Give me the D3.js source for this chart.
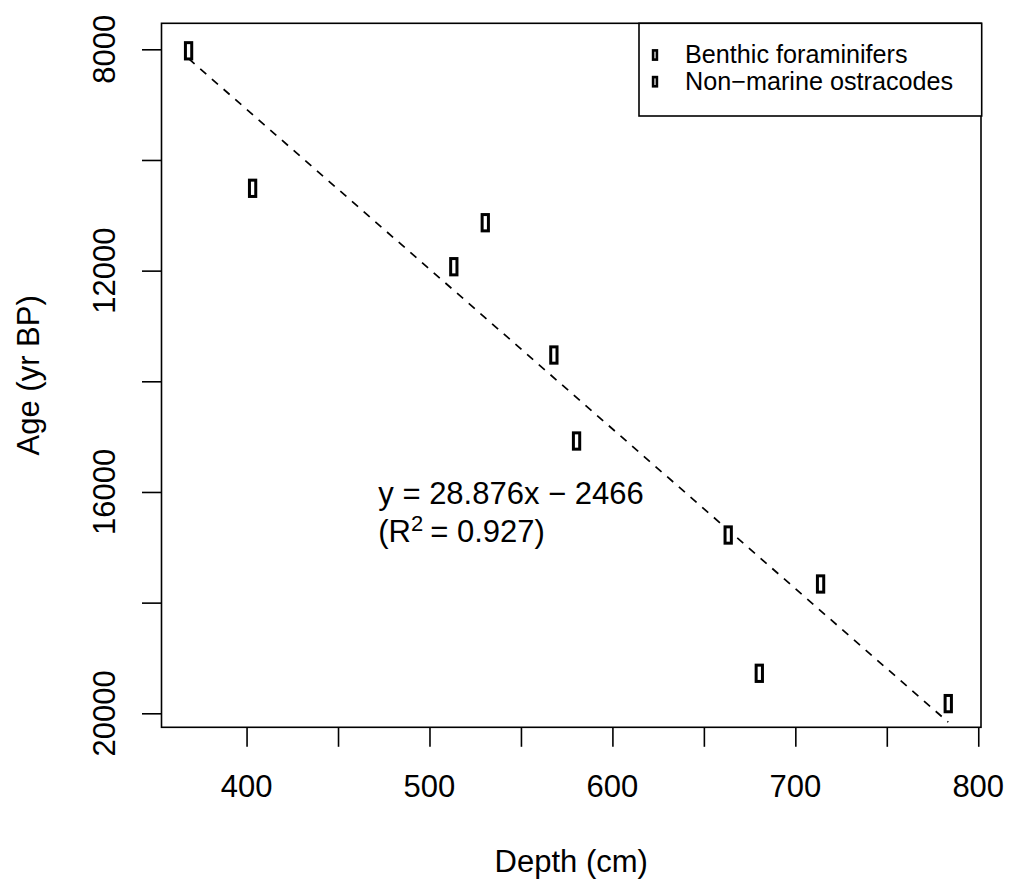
<!DOCTYPE html>
<html>
<head>
<meta charset="utf-8">
<script src="https://cdn.jsdelivr.net/npm/d3@7"></script>
<style>
  html, body { margin: 0; padding: 0; background: #fff; }
  svg { display: block; font-family: "Liberation Sans", Arial, Helvetica, sans-serif; }
</style>
</head>
<body>
<svg id="chart" width="1010" height="884"></svg>
<script>
// ---- data ----
const depthCm = [368.3, 403.3, 530.5, 513.3, 568.0, 580.4, 663.3, 713.8, 680.3, 783.6];
const ageYrBP = [8027, 10512, 11134, 11929, 13525, 15079, 16778, 17663, 19277, 19825];
const legendLabels = ["Benthic foraminifers", "Non\u2212marine ostracodes"];
const xTicks = [400, 450, 500, 550, 600, 650, 700, 750, 800];
const xTickLabels = [400, 500, 600, 700, 800];
const yTicks = [8000, 10000, 12000, 14000, 16000, 18000, 20000];
const yTickLabels = [8000, 12000, 16000, 20000];
const fitSlope = 28.876;
const fitIntercept = -2466;
const fitText = "y = 28.876x \u2212 2466";
const r2Value = "0.927";

// ---- layout ----
const svg = d3.select("#chart");
const box = { left: 161.5, right: 981, top: 23.3, bottom: 727.3 };

const x = d3.scaleLinear().domain([353.5, 801.5]).range([box.left, box.right]);
const y = d3.scaleLinear().domain([7530, 20253]).range([box.top, box.bottom]);

const axisFont = 31;

// plot frame
svg.append("rect")
  .attr("x", box.left).attr("y", box.top)
  .attr("width", box.right - box.left).attr("height", box.bottom - box.top)
  .attr("fill", "none").attr("stroke", "#000").attr("stroke-width", 1.6);

// x axis
const xAxis = d3.axisBottom(x).tickValues(xTicks).tickSize(19.5).tickFormat("");
const gx = svg.append("g").attr("transform", `translate(0,${box.bottom})`).call(xAxis);
gx.select(".domain").remove();
gx.selectAll(".tick line").attr("stroke", "#000").attr("stroke-width", 1.6);
svg.append("g").selectAll("text").data(xTickLabels).join("text")
  .attr("x", d => x(d)).attr("y", 796.5)
  .attr("text-anchor", "middle").attr("font-size", axisFont).attr("fill", "#000")
  .text(d => d);

// y axis
const yAxis = d3.axisLeft(y).tickValues(yTicks).tickSize(19.5).tickFormat("");
const gy = svg.append("g").attr("transform", `translate(${box.left},0)`).call(yAxis);
gy.select(".domain").remove();
gy.selectAll(".tick line").attr("stroke", "#000").attr("stroke-width", 1.6);
svg.append("g").selectAll("text").data(yTickLabels).join("text")
  .attr("transform", d => `translate(115,${y(d)}) rotate(-90)`)
  .attr("text-anchor", "middle").attr("font-size", axisFont).attr("fill", "#000")
  .text(d => d);

// axis titles
svg.append("text")
  .attr("x", (box.left + box.right) / 2).attr("y", 871.5)
  .attr("text-anchor", "middle").attr("font-size", axisFont)
  .text("Depth (cm)");
svg.append("text")
  .attr("transform", `translate(39.3,${(box.top + box.bottom) / 2}) rotate(-90)`)
  .attr("text-anchor", "middle").attr("font-size", axisFont)
  .text("Age (yr BP)");

// regression line (from min to max depth)
const xMin = d3.min(depthCm), xMax = d3.max(depthCm);
svg.append("line")
  .attr("x1", x(xMin)).attr("y1", y(fitSlope * xMin + fitIntercept))
  .attr("x2", x(xMax)).attr("y2", y(fitSlope * xMax + fitIntercept))
  .attr("stroke", "#000").attr("stroke-width", 1.7)
  .attr("stroke-dasharray", "8,7.5");

// points (rectangular markers)
const mw = 6.3, mh = 16.3;
svg.append("g").selectAll("rect").data(depthCm.map((d, i) => [d, ageYrBP[i]])).join("rect")
  .attr("x", d => x(d[0]) - mw / 2).attr("y", d => y(d[1]) - mh / 2)
  .attr("width", mw).attr("height", mh)
  .attr("fill", "#fff").attr("stroke", "#000").attr("stroke-width", 3);

// equation text
const eq = svg.append("g");
eq.append("text").attr("x", 378.3).attr("y", 504).attr("font-size", axisFont).text(fitText);
const t2 = eq.append("text").attr("x", 378.3).attr("y", 541.5).attr("font-size", axisFont);
t2.append("tspan").text("(R");
t2.append("tspan").attr("font-size", 22).attr("dy", -11).text("2");
t2.append("tspan").attr("dy", 11).attr("dx", 7).text("= " + r2Value + ")");

// legend
const lg = { left: 639, top: 23.3, right: 981.7, bottom: 116 };
svg.append("rect")
  .attr("x", lg.left).attr("y", lg.top)
  .attr("width", lg.right - lg.left).attr("height", lg.bottom - lg.top)
  .attr("fill", "#fff").attr("stroke", "#000").attr("stroke-width", 1.6);
const legY = [55, 81.7];
const legBase = [63.3, 90];
svg.append("g").selectAll("rect").data(legendLabels).join("rect")
  .attr("x", 655 - 1.9).attr("y", (d, i) => legY[i] - 4.6)
  .attr("width", 3.8).attr("height", 9.2)
  .attr("fill", "#fff").attr("stroke", "#000").attr("stroke-width", 2.6);
svg.append("g").selectAll("text").data(legendLabels).join("text")
  .attr("x", 685).attr("y", (d, i) => legBase[i])
  .attr("font-size", 25.2).text(d => d);
</script>
</body>
</html>
